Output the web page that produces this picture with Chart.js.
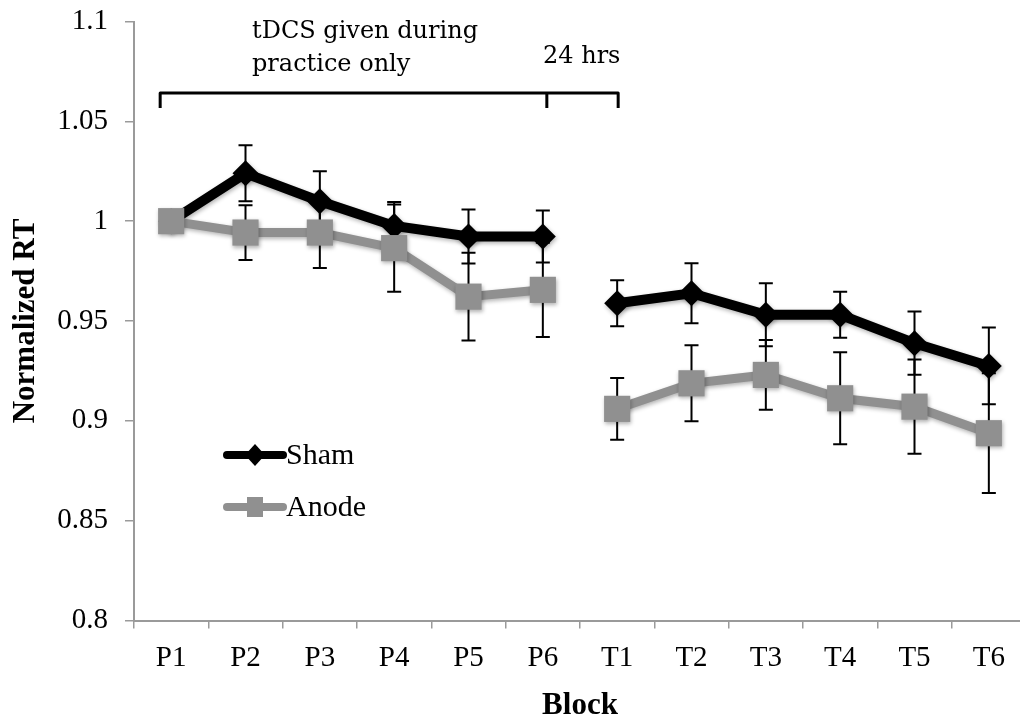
<!DOCTYPE html>
<html>
<head>
<meta charset="utf-8">
<script src="https://cdn.jsdelivr.net/npm/chart.js@4.4.1/dist/chart.umd.min.js"></script>
<style>
  html, body { margin: 0; padding: 0; overflow: hidden; background: #fff; }
  #wrap { width: 1026px; height: 725px; }
</style>
</head>
<body>
<div id="wrap"><canvas id="c" width="1026" height="725"></canvas></div>
<script>
// ---- data ----
const categories = ['P1','P2','P3','P4','P5','P6','T1','T2','T3','T4','T5','T6'];
const shamRT   = [1.000, 1.024, 1.010, 0.9976, 0.9923, 0.9923, 0.9589, 0.9639, 0.9531, 0.9531, 0.9389, 0.9275];
const shamErr  = [0, 0.014, 0.015, 0.012, 0.0135, 0.013, 0.0115, 0.015, 0.0158, 0.0115, 0.0158, 0.0192];
const anodeRT  = [1.000, 0.9943, 0.9943, 0.9865, 0.9622, 0.9656, 0.906, 0.9188, 0.923, 0.9113, 0.9071, 0.8938];
const anodeErr = [0, 0.0137, 0.0178, 0.0218, 0.022, 0.0236, 0.0155, 0.019, 0.0175, 0.023, 0.0236, 0.030];
const seriesNames = ['Sham', 'Anode'];
const yTitle = 'Normalized RT';
const xTitle = 'Block';
const noteLines = ['tDCS given during', 'practice only'];
const noteGap = '24 hrs';

// the line is broken between the last practice block and the first test block
const lastPractice = categories.filter(c => c.startsWith('P')).length - 1;

const BLACK = '#000000';
const GRAY = '#909090';
const AXIS = '#9a9a9a';
const SERIF = '"Liberation Serif", "Times New Roman", serif';
const NOTE_FONT = '"DejaVu Serif", serif';

const errorBars = {
  id: 'errorBars',
  beforeDatasetsDraw(chart) {
    const ctx = chart.ctx;
    const ys = chart.scales.y;
    ctx.save();
    ctx.strokeStyle = BLACK;
    ctx.lineWidth = 2;
    chart.data.datasets.forEach((ds, di) => {
      const meta = chart.getDatasetMeta(di);
      ds.err.forEach((e, i) => {
        if (!e) return;
        const x = meta.data[i].x;
        const yt = ys.getPixelForValue(ds.data[i] + e);
        const yb = ys.getPixelForValue(ds.data[i] - e);
        ctx.beginPath();
        ctx.moveTo(x, yt); ctx.lineTo(x, yb);
        ctx.moveTo(x - 7, yt); ctx.lineTo(x + 7, yt);
        ctx.moveTo(x - 7, yb); ctx.lineTo(x + 7, yb);
        ctx.stroke();
      });
    });
    ctx.restore();
  }
};

const shadow = {
  id: 'shadow',
  beforeDatasetDraw(chart) {
    const ctx = chart.ctx;
    ctx.save();
    ctx.shadowColor = 'rgba(0,0,0,0.30)';
    ctx.shadowBlur = 4;
    ctx.shadowOffsetX = 1;
    ctx.shadowOffsetY = 2;
  },
  afterDatasetDraw(chart) {
    chart.ctx.restore();
  }
};

const extras = {
  id: 'extras',
  afterDraw(chart) {
    const ctx = chart.ctx;
    const xs = chart.scales.x;
    const top = chart.chartArea.top;
    ctx.save();
    // bracket
    const xL = xs.getPixelForValue(0) - 11;
    const xM = xs.getPixelForValue(lastPractice) + 4;
    const xR = xs.getPixelForValue(lastPractice + 1) + 1;
    const yB = top + 71.5;
    const drop = 15;
    ctx.strokeStyle = BLACK;
    ctx.lineWidth = 3;
    ctx.lineJoin = 'round';
    ctx.beginPath();
    ctx.moveTo(xL, yB + drop); ctx.lineTo(xL, yB); ctx.lineTo(xR, yB); ctx.lineTo(xR, yB + drop);
    ctx.moveTo(xM, yB); ctx.lineTo(xM, yB + drop);
    ctx.stroke();
    // notes
    ctx.fillStyle = BLACK;
    ctx.font = '24px ' + NOTE_FONT;
    ctx.textAlign = 'left';
    ctx.textBaseline = 'alphabetic';
    ctx.fillText(noteLines[0], 252, top + 16);
    ctx.fillText(noteLines[1], 252, top + 49.5);
    ctx.fillText(noteGap, 543, top + 41.5);

    // legend
    const items = [
      { name: seriesNames[0], color: BLACK, y: 455, style: 'diamond' },
      { name: seriesNames[1], color: GRAY, y: 507, style: 'square' }
    ];
    items.forEach(it => {
      ctx.strokeStyle = it.color;
      ctx.lineWidth = 8;
      ctx.lineCap = 'round';
      ctx.beginPath();
      ctx.moveTo(227, it.y); ctx.lineTo(283, it.y);
      ctx.stroke();
      ctx.fillStyle = it.color;
      ctx.beginPath();
      if (it.style === 'diamond') {
        ctx.moveTo(255, it.y - 11); ctx.lineTo(265, it.y); ctx.lineTo(255, it.y + 11); ctx.lineTo(245, it.y);
        ctx.closePath();
      } else {
        ctx.rect(247, it.y - 10, 16, 20);
      }
      ctx.fill();
      ctx.fillStyle = BLACK;
      ctx.font = '30px ' + SERIF;
      ctx.textBaseline = 'middle';
      ctx.fillText(it.name, 286, it.y + 1);
    });
    ctx.restore();
  }
};

const breakSegment = {
  borderColor: c => (c.p0DataIndex === lastPractice ? 'rgba(0,0,0,0)' : undefined)
};

new Chart(document.getElementById('c'), {
  type: 'line',
  data: {
    labels: categories,
    datasets: [
      {
        label: seriesNames[0],
        data: shamRT,
        err: shamErr,
        borderColor: BLACK,
        backgroundColor: BLACK,
        borderWidth: 10,
        pointStyle: 'rectRot',
        pointRadius: 13,
        pointBorderWidth: 0,
        pointBackgroundColor: BLACK,
        segment: breakSegment,
        order: 2,
        tension: 0,
        clip: false
      },
      {
        label: seriesNames[1],
        data: anodeRT,
        err: anodeErr,
        borderColor: GRAY,
        backgroundColor: GRAY,
        borderWidth: 9,
        pointStyle: 'rect',
        pointRadius: 18.5,
        pointBorderWidth: 0,
        pointBackgroundColor: GRAY,
        segment: breakSegment,
        order: 1,
        tension: 0,
        clip: false
      }
    ]
  },
  options: {
    responsive: false,
    animation: false,
    devicePixelRatio: 1,
    layout: { autoPadding: false, padding: { top: 21.5, right: 0, left: 0, bottom: 0 } },
    plugins: { legend: { display: false }, tooltip: { enabled: false } },
    scales: {
      x: {
        type: 'category',
        offset: true,
        grid: { offset: true, drawOnChartArea: false, drawTicks: true, tickLength: 8, color: AXIS, lineWidth: 1.5 },
        border: { color: AXIS, width: 2 },
        ticks: { color: BLACK, font: { family: SERIF, size: 29 }, padding: 12, maxRotation: 0, autoSkip: false },
        title: { display: true, text: xTitle, color: BLACK, font: { family: SERIF, size: 31, weight: 'bold', lineHeight: 1.2 }, padding: { top: 0, bottom: 0 } },
        afterFit(s) { s.height = 104.5; s.paddingLeft = 0; s.paddingRight = 0; }
      },
      y: {
        min: 0.8,
        max: 1.1,
        grid: { drawOnChartArea: false, drawTicks: true, tickLength: 9, color: AXIS, lineWidth: 1.5 },
        border: { color: AXIS, width: 2 },
        ticks: { stepSize: 0.05, color: BLACK, font: { family: SERIF, size: 29 }, padding: 17,
                 callback: v => String(parseFloat(v.toFixed(2))) },
        title: { display: true, text: yTitle, color: BLACK, font: { family: SERIF, size: 31, weight: 'bold', lineHeight: 1.2 }, padding: { top: 7, bottom: 0 } },
        afterFit(s) { s.width = 134; s.paddingTop = 0; s.paddingBottom = 0; }
      }
    }
  },
  plugins: [errorBars, shadow, extras]
});
</script>
</body>
</html>
